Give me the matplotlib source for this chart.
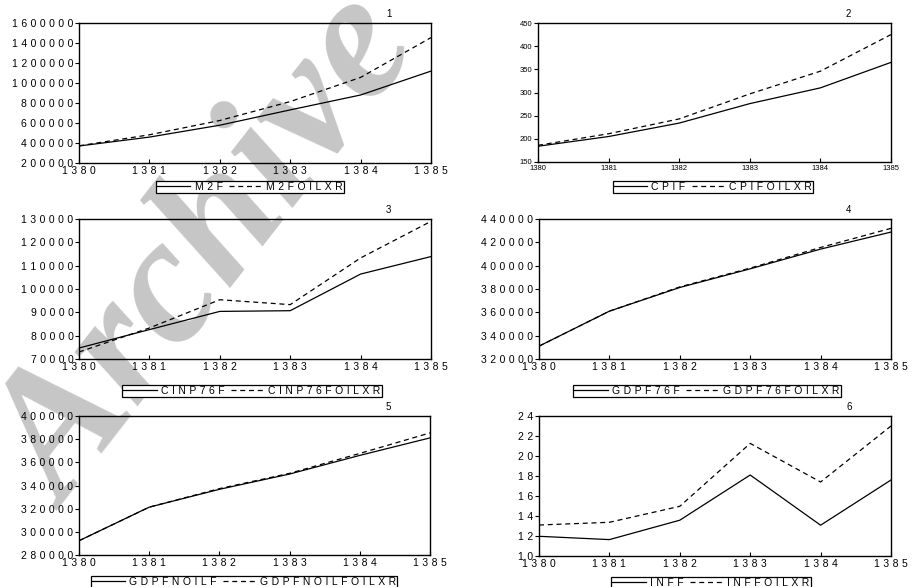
import matplotlib
matplotlib.use("Agg")
from matplotlib import pyplot as plt
from matplotlib.ticker import FuncFormatter

years = [1380, 1381, 1382, 1383, 1384, 1385]

m2f = [370000, 459000, 578000, 731000, 880000, 1119000]
m2foilxr = [372000, 482000, 625000, 814000, 1056000, 1454000]

cpif = [184, 205, 234, 276, 310, 365]
cpifoilxr = [186, 211, 243, 297, 346, 425]

cinp76f = [74700, 82600, 90400, 90700, 106400, 113900]
cinp76foilxr = [73000, 83300, 95400, 93300, 113300, 129000]

gdpf76f = [331000, 361000, 381300, 397300, 414200, 428800]
gdpf76foilxr = [331000, 361000, 381800, 397900, 415600, 432000]

gdpfnoilf = [292300, 321300, 336700, 349900, 366000, 381100]
gdpfnoilfoilxr = [292300, 321300, 337300, 350500, 367700, 385400]

inff = [11.97, 11.64, 13.58, 18.1, 13.08, 17.6]
inffoilxr = [13.1, 13.37, 14.97, 21.26, 17.4, 23.0]

panels = [
    ("1", "M2F", "M2FOILXR", m2f, m2foilxr, (200000, 1600000, 200000)),
    ("2", "CPIF", "CPIFOILXR", cpif, cpifoilxr, (150, 450, 50)),
    ("3", "CINP76F", "CINP76FOILXR", cinp76f, cinp76foilxr, (70000, 130000, 10000)),
    ("4", "GDPF76F", "GDPF76FOILXR", gdpf76f, gdpf76foilxr, (320000, 440000, 20000)),
    ("5", "GDPFNOILF", "GDPFNOILFOILXR", gdpfnoilf, gdpfnoilfoilxr, (280000, 400000, 20000)),
    ("6", "INFF", "INFFOILXR", inff, inffoilxr, (10, 24, 2)),
]

# axes boxes in pixels: left, right, top, bottom
boxes = [(79, 431, 23, 163), (538, 891, 23, 162),
         (79, 431, 219, 359), (539, 891, 219, 359),
         (79, 430, 416, 555), (539, 891, 416, 556)]
# legend centre x, top y in pixels
legpos = [(250, 181), (713, 181), (252, 385), (707, 385), (244, 576), (711, 577)]

W, H = 914, 587
fig = plt.figure(figsize=(W / 100, H / 100), dpi=100)
fig.patch.set_facecolor("white")

fams = ["Liberation Sans", "DejaVu Sans"]


def spaced(s, sep="\u2004"):
    return sep.join(s)


# faint watermark behind the panels
fig.text(210 / W, 1 - 255 / H, "Archive", rotation=52, ha="center", va="center",
         fontsize=130, family="Liberation Serif", style="italic", weight="bold",
         color="#c6c6c6", zorder=-1)

for i, (num, n1, n2, s1, s2, (lo, hi, step)) in enumerate(panels):
    l, r, t, b = boxes[i]
    ax = fig.add_axes([l / W, 1 - b / H, (r - l) / W, (b - t) / H])
    ax.set_facecolor("none")
    ax.plot(years, s1, color="black", lw=0.9, label=spaced(n1))
    ax.plot(years, s2, color="black", lw=0.9, ls=(0, (4, 3)), label=spaced(n2))
    ax.set_xlim(1380, 1385)
    ax.set_ylim(lo, hi)
    ax.set_xticks(years)
    ax.set_yticks(list(range(lo, hi + 1, step)))
    for sp in ax.spines.values():
        sp.set_linewidth(1.0)
    if num == "2":
        ax.xaxis.set_major_formatter(FuncFormatter(lambda v, p: "%d" % v))
        ax.yaxis.set_major_formatter(FuncFormatter(lambda v, p: "%d" % v))
        ax.tick_params(labelsize=5.5, length=3, pad=1)
    else:
        ax.xaxis.set_major_formatter(FuncFormatter(lambda v, p: spaced("%d" % v)))
        ax.yaxis.set_major_formatter(FuncFormatter(lambda v, p: spaced("%d" % v)))
        ax.tick_params(labelsize=7.5, length=3, pad=1)
    ax.tick_params(axis="x", direction="in", pad=2.5)
    ax.tick_params(axis="y", direction="out")
    for lab in ax.get_xticklabels() + ax.get_yticklabels():
        lab.set_family(fams)
    ax.text(0.88, 1.03, num, transform=ax.transAxes, fontsize=7, family=fams,
            ha="center", va="bottom")
    cx, ty = legpos[i]
    leg = ax.legend(loc="upper center", bbox_to_anchor=(cx / W, 1 - ty / H),
                    bbox_transform=fig.transFigure, ncol=2, frameon=True,
                    fancybox=False, edgecolor="black", framealpha=1,
                    prop={"family": fams, "size": 7.5}, handlelength=3.2,
                    handletextpad=0.4, columnspacing=0.6, borderpad=0.1,
                    borderaxespad=0)
    leg.get_frame().set_linewidth(0.9)

fig.savefig("out.png", dpi=100)
